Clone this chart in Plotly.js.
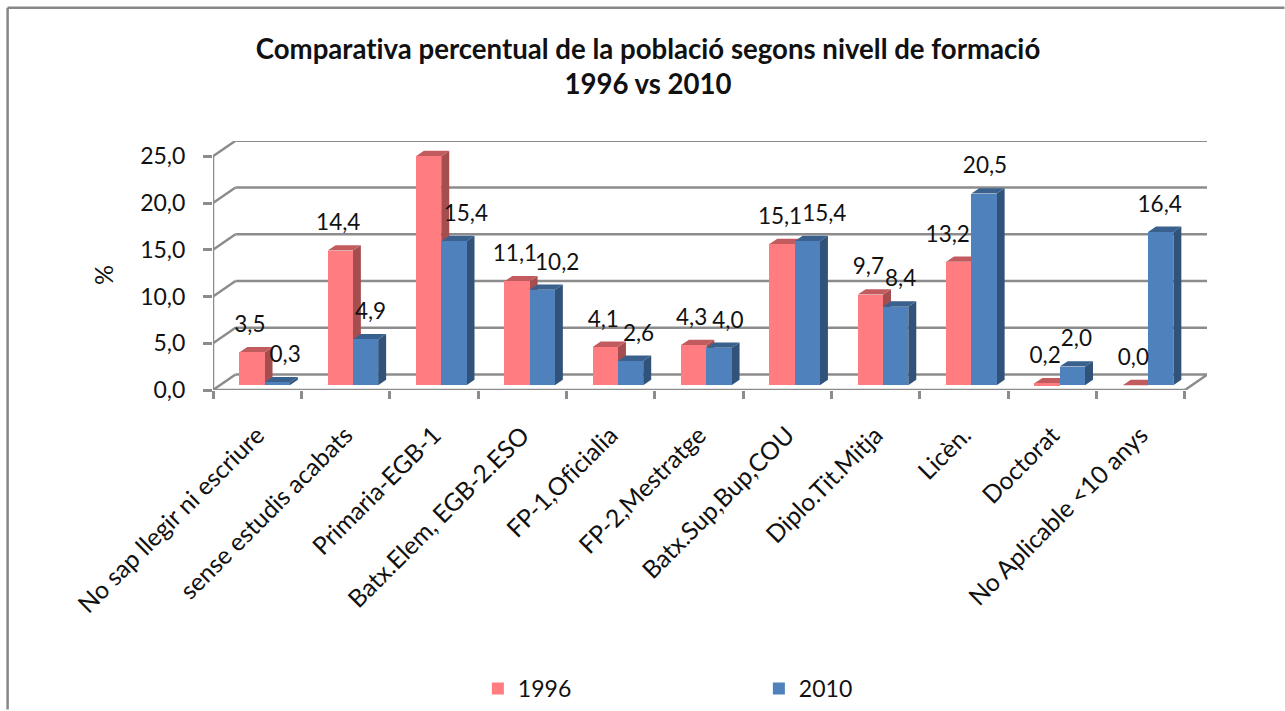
<!DOCTYPE html>
<html><head><meta charset="utf-8">
<script src="https://cdn.plot.ly/plotly-3.0.1.min.js"></script>
<style>html,body{margin:0;padding:0;background:#fff;overflow:hidden}
text{font-variant-ligatures:none;font-feature-settings:"liga" 0}</style>
</head><body><div id="chart" style="width:1285px;height:711px"></div>
<script>
const categories = ["No sap llegir ni escriure","sense estudis acabats","Primaria-EGB-1","Batx.Elem, EGB-2.ESO","FP-1,Oficialia","FP-2,Mestratge","Batx.Sup,Bup,COU","Diplo.Tit.Mitja","Licèn.","Doctorat","No Aplicable <10 anys"];
const values1996 = [3.5,14.4,24.5,11.1,4.1,4.3,15.1,9.7,13.2,0.2,0.0];
const values2010 = [0.3,4.9,15.4,10.2,2.6,4.0,15.4,8.4,20.5,2.0,16.4];
const yTicks = [0,5,10,15,20,25];
const labelNudge1996 = [-2,-2,-2,-2,-2,-2,-2,-2,-11,-2,-2];
const labelNudge2010 = [8,5,12,15,8,9,17,5,1,4,-1];

// plot geometry (pixels)
const L=213, R=1207.5, T=140.7, B=390.5, CAT=88.4, UNIT=9.38;
const xMin=-0.5, xMax=xMin+(R-L)/CAT, yMax=(B-T)/UNIT;
const wallDX=22.5/CAT, wallDY=15.5/UNIT;      // depth of the floor
const barW=25.3/CAT, barDX=8/CAT, barDY=5.4/UNIT, base=4.8/UNIT;
const off1996=-0.06, off2010=0.226;
const fmt=v=>v.toFixed(1).replace('.',',');
const FONT='Lato, sans-serif', GRID='#8c8c8c', INK='#111';

function faces(vals,off){
  const side={x:[],y:[]}, top={x:[],y:[]};
  vals.forEach((v,i)=>{
    const xr=i+off+barW/2, xl=i+off-barW/2, yt=base+v;
    side.x.push(xr,xr+barDX,xr+barDX,xr,null);
    side.y.push(base,base+barDY,yt+barDY,yt,null);
    top.x.push(xl,xr,xr+barDX,xl+barDX,null);
    top.y.push(yt,yt,yt+barDY,yt+barDY,null);
  });
  return {side,top};
}
function poly(p,color,z){
  return {type:'scatter',mode:'lines',x:p.x,y:p.y,fill:'toself',fillcolor:color,
    line:{width:0,color:color},hoverinfo:'skip',showlegend:false,zorder:z};
}
function front(name,vals,off,color,z){
  return {type:'bar',name:name,x:vals.map((_,i)=>i+off),y:vals,base:vals.map(()=>base),
    width:barW,marker:{color:color,line:{width:0}},zorder:z};
}
function labels(vals,off,nudge){
  return {type:'scatter',mode:'text',x:vals.map((_,i)=>i+off+nudge[i]/CAT),
    y:vals.map(v=>base+v+26/UNIT),text:vals.map(fmt),textposition:'middle center',
    textfont:{family:FONT,size:22.5,color:INK},cliponaxis:false,showlegend:false,hoverinfo:'skip',zorder:6};
}
const f96=faces(values1996,off1996), f10=faces(values2010,off2010);
const data=[
  poly(f96.side,'#A54E50',1),poly(f96.top,'#C25B5E',1),
  front('1996',values1996,off1996,'#FF7C80',2),
  poly(f10.side,'#31537A',3),poly(f10.top,'#3A608E',3),
  front('2010',values2010,off2010,'#4F81BD',4),
  labels(values1996,off1996,labelNudge1996),
  labels(values2010,off2010,labelNudge2010)
];

const seg=(x0,y0,x1,y1)=>({type:'line',xref:'x',yref:'y',x0,y0,x1,y1,layer:'below',line:{color:GRID,width:2.5}});
const shapes=[];
yTicks.forEach(v=>{
  shapes.push(seg(xMin,v,xMin+wallDX,v+wallDY));
  shapes.push(seg(xMin+wallDX,v+wallDY,xMax,v+wallDY));
});
shapes.push(seg(xMin,0,xMin,yTicks[yTicks.length-1]));
const xEnd=xMin+categories.length;
shapes.push(seg(xMin,0,xEnd,0));
shapes.push(seg(xEnd,0,xEnd+wallDX,wallDY));
// outer frame of the picture
const px=p=>(p-L)/(R-L), py=p=>(B-p)/(B-T);
shapes.push({type:'line',xref:'paper',yref:'paper',x0:px(7.5),x1:px(1285),y0:py(7),y1:py(7),line:{color:'#878787',width:2.5}});
shapes.push({type:'line',xref:'paper',yref:'paper',x0:px(7.5),x1:px(7.5),y0:py(7),y1:py(711),line:{color:'#878787',width:2.5}});

const layout={
  width:1285,height:711,paper_bgcolor:'#fff',plot_bgcolor:'rgba(0,0,0,0)',
  margin:{l:L,r:1285-R,t:T,b:711-B,autoexpand:false},barmode:'overlay',bargap:0,showlegend:true,
  font:{family:FONT,color:INK},
  title:{text:'<b>Comparativa percentual de la població segons nivell de formació<br>1996 vs 2010</b>',
    font:{family:FONT,size:27.6,color:INK},x:648/1285,xanchor:'center',y:1-58.5/711,yanchor:'middle'},
  xaxis:{range:[xMin,xMax],tickmode:'array',tickvals:categories.map((_,i)=>i),ticktext:categories,
    tickangle:-45,ticks:'',showgrid:false,zeroline:false,showline:false,tickfont:{family:FONT,size:24.6,color:INK},
    ticklabelstandoff:25,automargin:false,
    minor:{tickmode:'array',tickvals:categories.map((_,i)=>i-0.5).concat([xEnd]),ticks:'outside',ticklen:8,tickwidth:2.5,tickcolor:GRID,showgrid:false}},
  yaxis:{range:[0,yMax],tickmode:'array',tickvals:yTicks,ticktext:yTicks.map(fmt),ticks:'outside',ticklen:9,tickwidth:2.5,tickcolor:GRID,
    showgrid:false,zeroline:false,showline:false,tickfont:{family:FONT,size:23,color:INK},automargin:false,ticklabelstandoff:13},
  annotations:[{text:'%',xref:'paper',yref:'paper',x:px(103),y:py(275),xanchor:'center',yanchor:'middle',textangle:-90,showarrow:false,font:{family:FONT,size:25,color:INK}}],
  legend:{orientation:'h',x:px(478),xanchor:'left',y:py(690),yanchor:'middle',entrywidth:236,entrywidthmode:'pixels',
    font:{family:FONT,size:23,color:INK},traceorder:'normal',bgcolor:'rgba(0,0,0,0)'},
  shapes:shapes
};
Plotly.newPlot('chart',data,layout,{displayModeBar:false,responsive:false});
</script></body></html>
